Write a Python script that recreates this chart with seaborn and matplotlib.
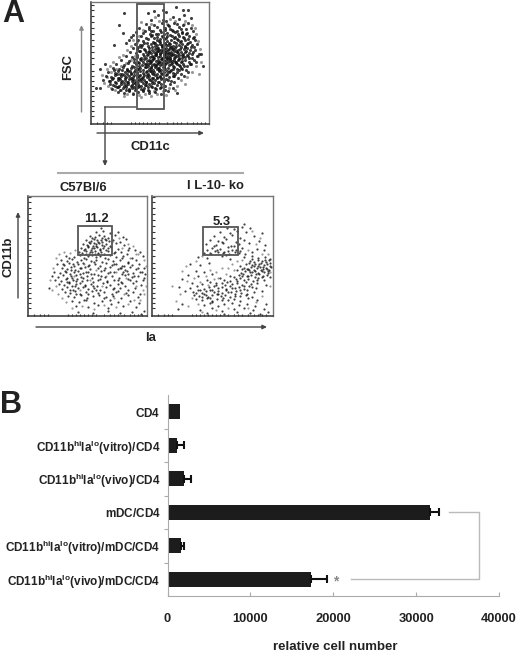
import seaborn as sns
import matplotlib.pyplot as plt
import pandas as pd

# bar chart values
categories = ['CD4', 'vitro_cd4', 'vivo_cd4', 'mdc_cd4', 'vitro_mdc', 'vivo_mdc']
cat_labels = [
	r'$\mathbf{CD4}$',
	r'$\mathbf{CD11b^{hi}Ia^{lo}(vitro)/CD4}$',
	r'$\mathbf{CD11b^{hi}Ia^{lo}(vivo)/CD4}$',
	r'$\mathbf{mDC/CD4}$',
	r'$\mathbf{CD11b^{hi}Ia^{lo}(vitro)/mDC/CD4}$',
	r'$\mathbf{CD11b^{hi}Ia^{lo}(vivo)/mDC/CD4}$',
]
cell_number = [1500, 1200, 2000, 31700, 1600, 17300]
cell_error = [0, 800, 800, 1100, 350, 1900]
x_ticks = [0, 10000, 20000, 30000, 40000]

fsc_points = [
	(33,111),(28,99),(42,89),(32,91),(23,79),(38,84),(35,81),(63,113),(72,114),(75,112),(85,117),(92,114),(97,114),(93,109),
	(100,106),(82,107),(88,105),(75,103),(83,101),(72,104),(67,109),(60,104),(57,111),(47,77),(14,60),(9,55),(5,36),(110,70),(112,58),
	(55,100),(63,99),(71,101),(78,98),(86,100),(92,99),(97,101),
	(48,96),(58,95),(66,97),(74,96),(81,94),(88,97),(95,95),(100,96),
	(45,92),(52,91),(60,93),(65,90),(70,92),(76,91),(82,93),(87,90),(91,92),(96,91),(102,93),
	(40,87),(50,88),(55,86),(61,89),(66,87),(71,88),(75,86),(79,89),(84,87),(88,88),(93,86),(98,88),(103,87),
	(47,84),(52,83),(57,85),(62,82),(66,84),(69,82),(73,85),(76,83),(80,84),(83,82),(86,85),(90,83),(94,84),(99,82),(104,84),
	(44,80),(49,79),(53,81),(57,78),(60,80),(63,81),(66,79),(69,80),(71,78),(74,81),(77,79),(79,80),(82,78),(85,81),(88,79),(91,80),(94,78),(97,81),(101,79),(106,80),
	(42,76),(46,75),(50,77),(54,74),(58,76),(61,77),(64,75),(66,76),(68,74),(71,77),(73,75),(75,76),(77,74),(80,77),(82,75),(84,76),(87,74),(90,77),(93,75),(96,76),(99,74),(103,77),
	(39,72),(45,71),(49,73),(52,70),(55,72),(58,73),(60,71),(63,72),(65,70),(67,73),(69,71),(71,72),(73,70),(75,73),(78,71),(80,72),(82,70),(85,73),(87,71),(90,72),(92,70),(95,73),(98,71),(102,72),(108,70),
	(35,68),(41,67),(46,69),(50,66),(53,68),(56,69),(59,67),(61,68),(63,66),(65,69),(67,67),(69,68),(71,66),(73,69),(75,67),(77,68),(79,66),(81,69),(84,67),(86,68),(88,66),(91,69),(94,67),(97,68),(101,66),(106,68),
	(30,64),(38,63),(43,65),(47,62),(50,64),(53,65),(56,63),(58,64),(60,62),(62,65),(65,63),(67,64),(69,62),(71,65),(73,63),(75,64),(77,62),(79,65),(81,63),(83,64),(85,62),(88,65),(91,63),(94,64),(98,62),(103,64),
	(25,60),(33,59),(37,61),(41,58),(45,60),(48,61),(51,59),(54,60),(57,58),(59,61),(61,59),(63,60),(65,58),(67,61),(69,59),(71,60),(73,58),(75,61),(78,59),(80,60),(82,58),(85,61),(88,59),(92,60),(96,58),(100,60),
	(22,56),(28,55),(32,57),(36,54),(40,56),(43,57),(46,55),(49,56),(52,54),(55,57),(58,55),(60,56),(62,54),(64,57),(66,55),(68,56),(70,54),(72,57),(74,55),(77,56),(80,54),(83,57),(86,55),(90,56),(95,54),
	(17,52),(24,51),(27,53),(31,50),(34,52),(37,53),(40,51),(43,52),(46,50),(49,53),(52,51),(55,52),(57,50),(59,53),(61,51),(63,52),(66,50),(68,53),(70,51),(73,52),(76,50),(79,53),(82,51),(86,52),(90,50),(97,52),
	(15,48),(20,47),(24,49),(27,46),(30,48),(33,49),(35,47),(38,48),(40,46),(43,49),(46,47),(48,48),(51,46),(53,49),(56,47),(58,48),(61,46),(64,49),(66,47),(69,48),(72,46),(75,49),(78,47),(82,48),(87,46),(93,48),
	(12,44),(18,43),(21,45),(24,42),(27,44),(29,45),(31,43),(34,44),(36,42),(38,45),(41,43),(43,44),(45,42),(48,45),(50,43),(53,44),(55,42),(58,45),(61,43),(64,44),(67,42),(70,45),(73,43),(77,44),(83,42),
	(19,40),(22,39),(25,41),(28,38),(30,40),(33,41),(35,39),(37,40),(40,38),(42,41),(45,39),(47,40),(50,38),(52,41),(55,39),(58,40),(60,38),(63,41),(66,39),(70,40),(74,38),(79,40),
	(9,36),(21,35),(26,37),(29,34),(32,36),(35,37),(38,35),(41,36),(44,34),(47,37),(50,35),(53,36),(57,34),(61,37),(65,35),(69,36),(74,34),(82,36),
	(27,32),(33,31),(38,33),(42,30),(47,32),(52,33),(58,31),(64,32),(70,30),(77,33),(86,31),
	(58,97),(69,94),(77,99),(84,92),(73,90),(63,86),(90,95),(54,93),(81,88),(95,90),(68,83),(59,90),(87,84),(78,81),(92,87),(72,87),
	(64,78),(85,78),(97,85),(56,81),(75,79),(89,75),(67,76),(80,70),(61,74),(94,72),(72,74),(83,73),(76,66),(65,71),(88,69),(57,70),
	(78,75),(70,65),(62,67),(91,66),(84,69),(74,72),(68,62),(81,61),(55,66),(96,69),(59,63),(86,60),(73,57),(66,60),(79,68),(52,62),
	(90,62),(75,70),(64,69),(83,66),(70,74),(77,71),(60,57),(93,58),(56,53),(68,54),(48,58),(82,55),(74,60),(62,50),(88,54),(44,54),
	(71,50),(78,52),(52,47),(66,46),(40,50),(59,44),(34,46),(47,43),(26,50),(37,42),(54,39),(30,42),(43,37),(22,46),(61,41),(50,45),
	(68,42),(39,53),(33,38),(46,52),(28,46),(36,50),(56,49),(24,38),(41,45),(75,45),(31,54),(84,50),(64,36),(52,34),(44,41),(38,34),
	(57,37),(70,37),(80,43),(48,38),(91,55),(99,60),(101,70),(104,74),(100,77),(98,66),(105,62),(102,86),(96,80),(91,91),(86,93),(79,95),
	(60,88),(53,75),(48,73),(51,79),(46,67),(43,62),(55,60),(49,65),(58,72),(62,93),(67,90),(74,94),(89,82),(94,77),(83,86),(76,88),
	(69,85),(64,81),(71,79),(79,77),(86,72),(92,68),(87,64),(81,75),(73,67),(66,73),(61,64),(69,70),(77,65),(84,62),(72,62),(64,59),
	(79,63),(57,60),(89,58),(67,56),(76,53),(54,57),(47,55),(83,48),(60,53),(42,47),(36,55),(29,50),(23,54),(19,43),(27,37),(35,34),
	(41,39),(49,49),(55,42),(62,46),(69,47),(45,36),(58,33),
]
fsc_faint = [
	(16,47),(20,52),(25,55),(30,58),(35,61),(40,64),(44,68),(48,88),(52,94),(60,100),(68,103),(76,100),(84,103),(94,103),(101,99),
	(105,90),(107,83),(109,75),(107,68),(105,58),(101,52),(96,47),(90,44),(86,38),(78,36),(72,33),(66,30),(60,28),(54,30),(48,29),
	(42,31),(36,30),(30,34),(24,34),(17,38),(13,41),(16,55),(22,62),(28,67),(36,74),(40,78),(46,82),(104,96),(110,62),(108,50),
	(94,40),(84,34),(75,29),(63,33),(50,27),(33,28),(20,36),(11,49),(19,58),(32,69),(42,84),(50,102),(64,107),(79,105),(93,100),
]

# dots
c57_points = [
	(73,88),(68,84),(75,85),(82,83),(90,84),
	(62,80),(67,79),(71,81),(76,80),(80,78),(87,81),(95,79),
	(58,76),(63,75),(66,77),(70,74),(73,76),(77,77),(81,75),(85,76),(92,74),(98,77),
	(55,72),(59,71),(62,73),(65,70),(68,72),(71,73),(74,71),(78,72),(82,70),(88,73),(96,71),
	(53,68),(57,67),(60,69),(63,66),(66,68),(69,69),(72,67),(75,68),(78,66),(83,69),(90,67),(101,68),(107,66),
	(51,64),(54,63),(58,65),(61,62),(64,64),(67,65),(70,63),(73,64),(76,62),(80,65),(86,63),(93,64),(99,62),(112,64),
	(38,60),(46,59),(52,61),(56,58),(60,60),(64,61),(68,59),(72,60),(77,58),(82,61),(88,59),(95,60),(104,58),(115,60),
	(33,56),(39,55),(44,57),(49,54),(53,56),(58,57),(63,55),(68,56),(74,54),(80,57),(85,55),(92,56),(100,54),(108,56),
	(29,52),(36,51),(41,53),(46,50),(50,52),(55,53),(61,51),(67,52),(72,50),(78,53),(84,51),(88,52),(94,50),(100,53),(104,51),(111,52),
	(34,48),(39,47),(43,49),(47,46),(52,48),(57,49),(62,47),(70,48),(76,46),(82,49),(90,47),(93,48),(97,46),(102,49),(108,47),(116,48),
	(26,44),(32,43),(37,45),(42,42),(46,44),(50,45),(55,43),(60,44),(66,42),(73,45),(80,43),(86,44),(94,42),(99,45),(105,43),(112,44),(117,42),
	(24,40),(30,39),(35,41),(39,38),(43,40),(48,41),(53,39),(59,40),(64,38),(70,41),(77,39),(84,40),(91,38),(97,41),(104,39),(110,40),(116,38),
	(27,36),(33,35),(38,37),(41,34),(45,36),(49,37),(54,35),(59,36),(65,34),(72,37),(79,35),(86,36),(93,34),(100,37),(108,35),(115,36),
	(31,32),(36,31),(41,33),(44,30),(48,32),(52,33),(57,31),(63,32),(69,30),(75,33),(82,31),(90,32),(97,30),(105,33),(113,31),
	(21,28),(34,27),(39,29),(45,26),(50,28),(55,29),(60,27),(66,28),(72,26),(78,29),(85,27),(92,28),(100,26),(107,28),
	(37,24),(42,23),(47,25),(52,22),(58,24),(64,25),(70,23),(76,24),(84,22),(90,25),(98,23),(105,24),(112,22),
	(40,20),(46,19),(53,21),(59,18),(65,20),(71,21),(78,19),(85,20),(93,18),(100,21),(110,19),
	(44,15),(51,14),(58,16),(66,13),(74,15),(82,16),(90,14),(102,15),(111,13),
	(48,10),(60,9),(70,11),(80,8),(95,10),(108,9),(50,4),(65,3),(80,5),(92,3),(104,4),(113,2),(116,5),
	(64,78),(69,76),(74,74),(60,70),(66,73),(72,66),(78,76),(62,64),(56,66),(70,62),(76,70),(68,70),(58,62),(80,68),(64,68),(74,78),
	(67,62),(61,74),(45,52),(53,48),(58,44),(44,38),(39,34),(47,30),(55,38),(48,35),(42,26),(60,50),(66,54),(52,42),(38,44),(92,48),
	(95,44),(100,42),(90,36),(96,50),(106,40),(110,48),(114,44),(86,52),(82,44),(77,48),(70,36),(63,42),(57,30),(65,30),(73,40),(79,34),
	(86,28),(94,33),(102,36),(48,22),(60,22),(68,26),(76,18),(88,24),(56,16),(83,12),(43,46),(35,52),(41,58),(87,64),(94,58),(100,66),
]
c57_faint = [
	(25,48),(22,36),(28,58),(31,62),(36,64),(42,63),(47,66),(91,78),(100,72),(105,70),(110,62),(116,56),(118,50),(118,30),(116,22),
	(28,30),(24,26),(30,22),(34,18),(38,14),(44,8),(54,10),(66,7),(76,11),(88,9),(100,12),(112,16),(106,16),(96,22),(86,18),(74,30),
	(62,36),(52,26),(46,40),(56,52),(68,46),(78,40),(88,44),(98,38),(108,30),(115,26),(102,58),(108,62),(94,68),(84,74),
]

# dots
il10_points = [
	(92,92),(75,88),(82,87),(90,89),(98,88),(68,84),(78,83),(85,85),(94,84),(110,83),
	(62,80),(72,79),(80,81),(88,78),(102,80),(58,76),(66,75),(74,77),(84,74),(92,76),(107,75),
	(54,72),(64,71),(71,73),(79,70),(87,72),(97,73),(113,71),(60,68),(68,67),(76,69),(84,66),(90,68),(105,67),
	(55,66),(63,65),(72,64),(80,66),(88,65),(100,64),(112,66),(52,63),(59,62),(66,64),(71,63),(77,62),(83,64),(87,63),(93,62),
	(46,59),(55,58),(70,60),(78,57),(92,59),(100,60),(106,58),(113,59),(118,57),(98,55),(102,54),(106,56),(110,55),(114,54),(117,56),
	(38,52),(48,51),(57,53),(88,50),(94,52),(97,53),(100,51),(103,52),(106,50),(109,53),(112,51),(115,52),(118,50),
	(92,48),(96,47),(99,49),(102,46),(105,48),(108,49),(111,47),(114,48),(117,46),(119,49),
	(44,45),(52,44),(85,46),(89,43),(93,45),(97,46),(100,44),(103,45),(106,43),(109,46),(112,44),(116,45),
	(36,41),(46,40),(60,42),(82,39),(87,41),(91,42),(95,40),(99,41),(103,39),(107,42),(111,40),(115,41),(118,39),
	(30,37),(55,36),(68,38),(78,35),(84,37),(88,38),(92,36),(96,37),(101,35),(106,38),(112,36),
	(40,33),(50,32),(58,34),(64,31),(70,33),(75,34),(80,32),(85,33),(90,31),(94,34),(99,32),(105,33),(114,31),
	(27,29),(38,28),(45,30),(52,27),(57,29),(62,30),(66,28),(70,29),(74,27),(78,30),(83,28),(87,29),(92,27),(97,30),(104,28),
	(33,25),(41,24),(46,26),(50,23),(54,25),(58,26),(62,24),(66,25),(70,23),(74,26),(79,24),(84,25),(89,23),(95,26),(102,24),(110,25),
	(42,21),(47,20),(52,22),(56,19),(60,21),(65,22),(69,20),(73,21),(78,19),(83,22),(88,20),(94,21),(100,19),
	(44,17),(50,16),(55,18),(60,15),(65,17),(71,18),(76,16),(82,17),(88,15),(96,18),(105,16),
	(30,12),(52,11),(58,13),(66,10),(72,12),(80,13),(87,11),(95,12),(103,10),(114,12),
	(26,7),(48,6),(60,8),(70,5),(82,7),(92,8),(101,6),(112,7),(55,3),(72,2),(85,4),(98,3),(108,2),(116,4),
	(102,50),(107,52),(111,49),(115,47),(98,44),(104,42),(110,45),(95,47),(118,53),(113,56),(100,57),(96,40),(90,40),(85,35),(92,30),
	(80,28),(73,31),(66,22),(60,26),(54,21),(48,26),(44,23),(58,18),(70,16),(76,24),(83,20),(88,26),(95,22),(64,33),(72,36),(60,14),
	(50,19),(78,40),(90,47),(110,39),(116,43),(105,36),(100,29),(62,70),(70,74),(76,65),(82,70),(58,63),(65,66),(74,61),
]
il10_faint = [
	(28,22),(24,15),(20,30),(35,35),(42,38),(30,45),(34,50),(44,55),(50,60),(40,18),(36,10),(46,12),(90,56),(85,55),(80,52),(76,48),
	(70,48),(64,44),(58,46),(96,66),(104,72),(110,62),(116,62),(100,85),(108,78),(118,44),(118,30),(110,20),(104,14),(96,8),(76,8),
	(64,6),(50,4),(62,37),(54,40),(48,34),(56,31),(66,38),(74,42),(82,46),
]

# tick channels along the flow plot edges
flow_ticks_fsc = [8,13,18,23,28,33,38,43,48,53,60,66,72,78,84,90,96,102,108,114,119]
flow_ticks_x = [6,12,16,20,40,44,48,52,56,60,64,68,76,82,86,90,96,102,106,110,114]

W, H = 520, 656


def add_ax(left, top, right, bottom):
	return fig.add_axes([left / W, 1 - bottom / H, (right - left) / W, (bottom - top) / H])


def flow_panel(ax, points, faint, xlim, ylim, gate, dot=2.5):
	df = pd.DataFrame(points, columns=['x', 'y'])
	df_faint = pd.DataFrame(faint, columns=['x', 'y'])
	sns.scatterplot(data=df_faint, x='x', y='y', ax=ax, s=dot, color='#999999', linewidth=0, legend=False)
	sns.scatterplot(data=df, x='x', y='y', ax=ax, s=dot, color='#111111', alpha=0.8, linewidth=0, legend=False)
	ax.set_xlim(*xlim)
	ax.set_ylim(*ylim)
	ax.set_xlabel('')
	ax.set_ylabel('')
	ax.set_xticks(flow_ticks_x)
	ax.set_yticks(flow_ticks_fsc)
	ax.set_xticklabels([])
	ax.set_yticklabels([])
	ax.tick_params(direction='in', length=1.8, width=0.8, color='#333333')
	for s in ['left', 'bottom']:
		ax.spines[s].set_color('#333333')
		ax.spines[s].set_linewidth(1.1)
	for s in ['top', 'right']:
		ax.spines[s].set_color('#777777')
		ax.spines[s].set_linewidth(1.0)
	ax.add_patch(plt.Rectangle((gate[0], gate[1]), gate[2], gate[3], fill=False, ec='#555555', lw=1.3, zorder=5))


plt.rcParams['font.family'] = ['Liberation Sans', 'DejaVu Sans']
plt.rcParams['mathtext.fontset'] = 'custom'
plt.rcParams['mathtext.bf'] = 'Liberation Sans:bold'
plt.rcParams['mathtext.rm'] = 'Liberation Sans'

fig = plt.figure(figsize=(5.2, 6.56), dpi=100)

# flow plots
ax_fsc = add_ax(91, 2, 209, 124)
flow_panel(ax_fsc, fsc_points, fsc_faint, (0, 118), (0, 122), (46, 15, 27, 105), dot=5)
ax_c57 = add_ax(28, 196, 147, 316)
flow_panel(ax_c57, c57_points, c57_faint, (0, 119), (0, 120), (50, 61, 34, 29))
ax_il10 = add_ax(152, 196, 273, 316)
flow_panel(ax_il10, il10_points, il10_faint, (0, 121), (0, 120), (51, 61, 35, 28))

# bar chart
ax_bar = add_ax(167.5, 395, 499, 596)
bar_df = pd.DataFrame({'group': categories, 'cells': cell_number, 'err': cell_error})
sns.barplot(data=bar_df, x='cells', y='group', orient='h', color='#1c1c1c', saturation=1, width=0.45, ax=ax_bar)
for i, row in bar_df.iterrows():
	if row['err'] > 0:
		ax_bar.errorbar(row['cells'], i, xerr=[[0], [row['err']]], color='#111111', lw=1.5, capsize=3, capthick=1.5)
ax_bar.set_xlim(0, 40000)
ax_bar.set_ylim(5.5, -0.5)
ax_bar.set_xticks(x_ticks)
ax_bar.set_xticklabels([str(t) for t in x_ticks], fontsize=9.3, fontweight='bold', color='#222222')
ax_bar.set_yticks(range(len(categories)))
ax_bar.set_yticklabels(cat_labels, fontsize=8.5, color='#222222')
ax_bar.set_yticks([0.5, 1.5, 2.5, 3.5, 4.5], minor=True)
ax_bar.tick_params(axis='y', which='major', length=0, pad=5)
ax_bar.tick_params(axis='y', which='minor', length=3, width=0.8, color='#aaaaaa', direction='out')
ax_bar.tick_params(axis='x', length=3, width=0.8, color='#aaaaaa', direction='in', pad=12)
ax_bar.set_xlabel('relative cell number', fontsize=9.5, fontweight='bold', color='#222222', labelpad=12)
ax_bar.xaxis.set_label_coords(0.505, -0.225)
ax_bar.set_ylabel('')
sns.despine(ax=ax_bar)
ax_bar.spines['left'].set_color('#aaaaaa')
ax_bar.spines['bottom'].set_color('#aaaaaa')
ax_bar.plot([34000, 37600, 37600, 22100], [3, 3, 5, 5], color='#bbbbbb', lw=1, clip_on=False)
ax_bar.text(20300, 5.08, '*', fontsize=10, fontweight='bold', color='#888888', ha='center', va='center')

# overlay for panel letters, arrows and flow labels, in image pixels
over = fig.add_axes([0, 0, 1, 1], facecolor='none')
over.set_xlim(0, W)
over.set_ylim(H, 0)
over.axis('off')


def arrow(x0, y0, x1, y1, color='#444444'):
	over.annotate('', xy=(x1, y1), xytext=(x0, y0),
		arrowprops=dict(arrowstyle='-|>,head_length=0.25,head_width=0.12', color=color, lw=1, shrinkA=0, shrinkB=0))


arrow(81.5, 112, 81.5, 25, '#888888')
arrow(97, 133, 204, 133)
arrow(18, 298, 18, 212)
arrow(36, 327, 267, 327)
over.plot([137, 105], [107, 107], color='#666666', lw=1.2)
arrow(105, 107, 105, 166, '#444444')
over.plot([58, 243], [173, 173], color='#aaaaaa', lw=1.5)

label = dict(fontweight='bold', color='#222222', ha='center', va='center')
over.text(13, 14, 'A', fontsize=22, **label)
over.text(11, 405, 'B', fontsize=22, **label)
over.text(68, 67, 'FSC', fontsize=9.4, rotation=90, **label)
over.text(150, 147, 'CD11c', fontsize=9.4, **label)
over.text(83, 188, 'C57Bl/6', fontsize=9.4, **label)
over.text(215, 186, 'I L-10- ko', fontsize=9.4, **label)
over.text(96, 219, '11.2', fontsize=9.4, **label)
over.text(222, 222, '5.3', fontsize=9.4, **label)
over.text(9, 257, 'CD11b', fontsize=9.4, rotation=90, **label)
over.text(151, 338, 'Ia', fontsize=9.4, **label)

plt.savefig('out.png', dpi=100)
